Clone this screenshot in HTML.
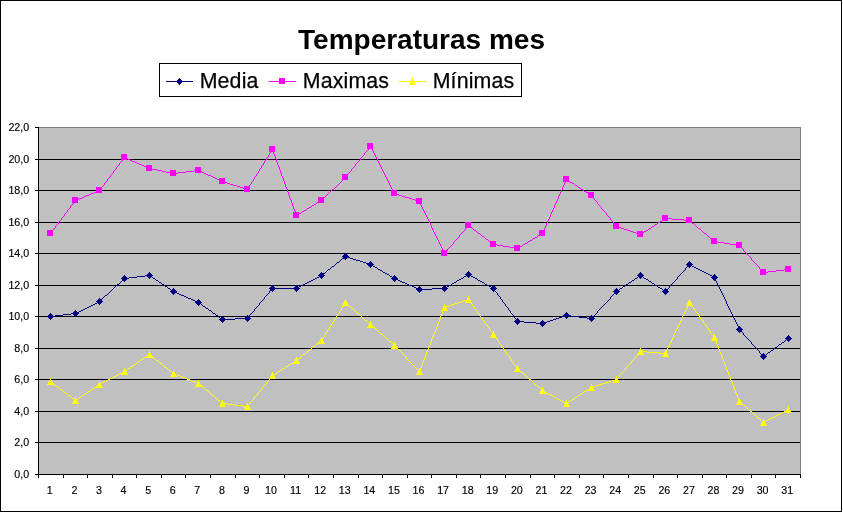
<!DOCTYPE html>
<html><head><meta charset="utf-8"><title>Temperaturas mes</title>
<style>html,body{margin:0;padding:0;background:#fff}svg{display:block}text{font-family:"Liberation Sans",Arial,sans-serif;fill:#000}.t{font-size:10.67px;stroke:#000;stroke-width:0.15px}.lg{font-size:21.33px;letter-spacing:0.15px;stroke:#000;stroke-width:0.25px}.ti{font-size:28px;font-weight:bold}</style></head><body>
<svg width="843" height="513" viewBox="0 0 843 513" shape-rendering="crispEdges">
<rect x="0" y="0" width="843" height="513" fill="#fff"/>
<rect x="0.5" y="0.5" width="841" height="511" fill="none" stroke="#000" stroke-width="1"/>
<rect x="38" y="127" width="763" height="348" fill="#808080"/>
<rect x="39" y="128" width="761" height="346" fill="#c0c0c0"/>
<rect x="39" y="442" width="761" height="1" fill="#000"/>
<rect x="39" y="411" width="761" height="1" fill="#000"/>
<rect x="39" y="379" width="761" height="1" fill="#000"/>
<rect x="39" y="348" width="761" height="1" fill="#000"/>
<rect x="39" y="316" width="761" height="1" fill="#000"/>
<rect x="39" y="285" width="761" height="1" fill="#000"/>
<rect x="39" y="253" width="761" height="1" fill="#000"/>
<rect x="39" y="222" width="761" height="1" fill="#000"/>
<rect x="39" y="190" width="761" height="1" fill="#000"/>
<rect x="39" y="159" width="761" height="1" fill="#000"/>
<rect x="38" y="127" width="1" height="348" fill="#000"/>
<rect x="38" y="474" width="763" height="1" fill="#000"/>
<rect x="35" y="474" width="3" height="1" fill="#000"/>
<text class="t" x="29.2" y="478" text-anchor="end">0,0</text>
<rect x="35" y="442" width="3" height="1" fill="#000"/>
<text class="t" x="29.2" y="446" text-anchor="end">2,0</text>
<rect x="35" y="411" width="3" height="1" fill="#000"/>
<text class="t" x="29.2" y="415" text-anchor="end">4,0</text>
<rect x="35" y="379" width="3" height="1" fill="#000"/>
<text class="t" x="29.2" y="383" text-anchor="end">6,0</text>
<rect x="35" y="348" width="3" height="1" fill="#000"/>
<text class="t" x="29.2" y="352" text-anchor="end">8,0</text>
<rect x="35" y="316" width="3" height="1" fill="#000"/>
<text class="t" x="29.2" y="320" text-anchor="end">10,0</text>
<rect x="35" y="285" width="3" height="1" fill="#000"/>
<text class="t" x="29.2" y="289" text-anchor="end">12,0</text>
<rect x="35" y="253" width="3" height="1" fill="#000"/>
<text class="t" x="29.2" y="257" text-anchor="end">14,0</text>
<rect x="35" y="222" width="3" height="1" fill="#000"/>
<text class="t" x="29.2" y="226" text-anchor="end">16,0</text>
<rect x="35" y="190" width="3" height="1" fill="#000"/>
<text class="t" x="29.2" y="194" text-anchor="end">18,0</text>
<rect x="35" y="159" width="3" height="1" fill="#000"/>
<text class="t" x="29.2" y="163" text-anchor="end">20,0</text>
<rect x="35" y="127" width="3" height="1" fill="#000"/>
<text class="t" x="29.2" y="131" text-anchor="end">22,0</text>
<rect x="38" y="474" width="1" height="4" fill="#000"/>
<rect x="63" y="474" width="1" height="4" fill="#000"/>
<rect x="87" y="474" width="1" height="4" fill="#000"/>
<rect x="112" y="474" width="1" height="4" fill="#000"/>
<rect x="136" y="474" width="1" height="4" fill="#000"/>
<rect x="161" y="474" width="1" height="4" fill="#000"/>
<rect x="185" y="474" width="1" height="4" fill="#000"/>
<rect x="210" y="474" width="1" height="4" fill="#000"/>
<rect x="235" y="474" width="1" height="4" fill="#000"/>
<rect x="259" y="474" width="1" height="4" fill="#000"/>
<rect x="284" y="474" width="1" height="4" fill="#000"/>
<rect x="308" y="474" width="1" height="4" fill="#000"/>
<rect x="333" y="474" width="1" height="4" fill="#000"/>
<rect x="358" y="474" width="1" height="4" fill="#000"/>
<rect x="382" y="474" width="1" height="4" fill="#000"/>
<rect x="407" y="474" width="1" height="4" fill="#000"/>
<rect x="431" y="474" width="1" height="4" fill="#000"/>
<rect x="456" y="474" width="1" height="4" fill="#000"/>
<rect x="480" y="474" width="1" height="4" fill="#000"/>
<rect x="505" y="474" width="1" height="4" fill="#000"/>
<rect x="530" y="474" width="1" height="4" fill="#000"/>
<rect x="554" y="474" width="1" height="4" fill="#000"/>
<rect x="579" y="474" width="1" height="4" fill="#000"/>
<rect x="603" y="474" width="1" height="4" fill="#000"/>
<rect x="628" y="474" width="1" height="4" fill="#000"/>
<rect x="653" y="474" width="1" height="4" fill="#000"/>
<rect x="677" y="474" width="1" height="4" fill="#000"/>
<rect x="702" y="474" width="1" height="4" fill="#000"/>
<rect x="726" y="474" width="1" height="4" fill="#000"/>
<rect x="751" y="474" width="1" height="4" fill="#000"/>
<rect x="775" y="474" width="1" height="4" fill="#000"/>
<rect x="800" y="474" width="1" height="4" fill="#000"/>
<text class="t" x="49.79" y="494" text-anchor="middle">1</text>
<text class="t" x="74.37" y="494" text-anchor="middle">2</text>
<text class="t" x="98.95" y="494" text-anchor="middle">3</text>
<text class="t" x="123.53" y="494" text-anchor="middle">4</text>
<text class="t" x="148.11" y="494" text-anchor="middle">5</text>
<text class="t" x="172.69" y="494" text-anchor="middle">6</text>
<text class="t" x="197.27" y="494" text-anchor="middle">7</text>
<text class="t" x="221.85" y="494" text-anchor="middle">8</text>
<text class="t" x="246.44" y="494" text-anchor="middle">9</text>
<text class="t" x="271.02" y="494" text-anchor="middle">10</text>
<text class="t" x="295.60" y="494" text-anchor="middle">11</text>
<text class="t" x="320.18" y="494" text-anchor="middle">12</text>
<text class="t" x="344.76" y="494" text-anchor="middle">13</text>
<text class="t" x="369.34" y="494" text-anchor="middle">14</text>
<text class="t" x="393.92" y="494" text-anchor="middle">15</text>
<text class="t" x="418.50" y="494" text-anchor="middle">16</text>
<text class="t" x="443.08" y="494" text-anchor="middle">17</text>
<text class="t" x="467.66" y="494" text-anchor="middle">18</text>
<text class="t" x="492.24" y="494" text-anchor="middle">19</text>
<text class="t" x="516.82" y="494" text-anchor="middle">20</text>
<text class="t" x="541.40" y="494" text-anchor="middle">21</text>
<text class="t" x="565.98" y="494" text-anchor="middle">22</text>
<text class="t" x="590.56" y="494" text-anchor="middle">23</text>
<text class="t" x="615.15" y="494" text-anchor="middle">24</text>
<text class="t" x="639.73" y="494" text-anchor="middle">25</text>
<text class="t" x="664.31" y="494" text-anchor="middle">26</text>
<text class="t" x="688.89" y="494" text-anchor="middle">27</text>
<text class="t" x="713.47" y="494" text-anchor="middle">28</text>
<text class="t" x="738.05" y="494" text-anchor="middle">29</text>
<text class="t" x="762.63" y="494" text-anchor="middle">30</text>
<text class="t" x="787.21" y="494" text-anchor="middle">31</text>
<path d="M50 316h5v1h-5zM55 315h8v1h-8zM63 314h8v1h-8zM71 313h5v1h-5zM75 313h2v1h-2zM77 312h2v1h-2zM79 311h2v1h-2zM81 310h2v1h-2zM83 309h2v1h-2zM85 308h2v1h-2zM87 307h2v1h-2zM89 306h2v1h-2zM91 305h2v1h-2zM93 304h2v1h-2zM95 303h2v1h-2zM97 302h2v1h-2zM99 301h1v1h-1zM99 301h1v1h-1zM100 300h1v1h-1zM101 299h1v1h-1zM102 298h1v1h-1zM103 297h1v1h-1zM104 296h1v1h-1zM105 295h2v1h-2zM107 294h1v1h-1zM108 293h1v1h-1zM109 292h1v1h-1zM110 291h1v1h-1zM111 290h1v1h-1zM112 289h1v1h-1zM113 288h1v1h-1zM114 287h1v1h-1zM115 286h1v1h-1zM116 285h1v1h-1zM117 284h2v1h-2zM119 283h1v1h-1zM120 282h1v1h-1zM121 281h1v1h-1zM122 280h1v1h-1zM123 279h1v1h-1zM124 278h1v1h-1zM124 278h5v1h-5zM129 277h8v1h-8zM137 276h8v1h-8zM145 275h5v1h-5zM149 275h1v1h-1zM150 276h2v1h-2zM152 277h1v1h-1zM153 278h2v1h-2zM155 279h1v1h-1zM156 280h2v1h-2zM158 281h1v1h-1zM159 282h2v1h-2zM161 283h1v1h-1zM162 284h2v1h-2zM164 285h1v1h-1zM165 286h2v1h-2zM167 287h1v1h-1zM168 288h2v1h-2zM170 289h1v1h-1zM171 290h2v1h-2zM173 291h1v1h-1zM173 291h2v1h-2zM175 292h2v1h-2zM177 293h2v1h-2zM179 294h2v1h-2zM181 295h3v1h-3zM184 296h2v1h-2zM186 297h2v1h-2zM188 298h3v1h-3zM191 299h2v1h-2zM193 300h2v1h-2zM195 301h2v1h-2zM197 302h2v1h-2zM198 302h1v1h-1zM199 303h2v1h-2zM201 304h1v1h-1zM202 305h1v1h-1zM203 306h2v1h-2zM205 307h1v1h-1zM206 308h2v1h-2zM208 309h1v1h-1zM209 310h2v1h-2zM211 311h1v1h-1zM212 312h1v1h-1zM213 313h2v1h-2zM215 314h1v1h-1zM216 315h2v1h-2zM218 316h1v1h-1zM219 317h1v1h-1zM220 318h2v1h-2zM222 319h1v1h-1zM222 319h13v1h-13zM235 318h13v1h-13zM247 318h1v1h-1zM248 317h1v1h-1zM249 315h1v2h-1zM250 314h1v1h-1zM251 313h1v1h-1zM252 312h1v1h-1zM253 311h1v1h-1zM254 309h1v2h-1zM255 308h1v1h-1zM256 307h1v1h-1zM257 306h1v1h-1zM258 305h1v1h-1zM259 303h1v2h-1zM260 302h1v1h-1zM261 301h1v1h-1zM262 300h1v1h-1zM263 299h1v1h-1zM264 297h1v2h-1zM265 296h1v1h-1zM266 295h1v1h-1zM267 294h1v1h-1zM268 293h1v1h-1zM269 291h1v2h-1zM270 290h1v1h-1zM271 289h1v1h-1zM272 288h1v1h-1zM272 288h25v1h-25zM296 288h1v1h-1zM297 287h2v1h-2zM299 286h2v1h-2zM301 285h2v1h-2zM303 284h2v1h-2zM305 283h2v1h-2zM307 282h2v1h-2zM309 281h2v1h-2zM311 280h2v1h-2zM313 279h2v1h-2zM315 278h2v1h-2zM317 277h2v1h-2zM319 276h2v1h-2zM321 275h1v1h-1zM321 275h1v1h-1zM322 274h1v1h-1zM323 273h2v1h-2zM325 272h1v1h-1zM326 271h1v1h-1zM327 270h1v1h-1zM328 269h2v1h-2zM330 268h1v1h-1zM331 267h1v1h-1zM332 266h2v1h-2zM334 265h1v1h-1zM335 264h1v1h-1zM336 263h1v1h-1zM337 262h2v1h-2zM339 261h1v1h-1zM340 260h1v1h-1zM341 259h1v1h-1zM342 258h2v1h-2zM344 257h1v1h-1zM345 256h1v1h-1zM345 256h2v1h-2zM347 257h3v1h-3zM350 258h3v1h-3zM353 259h3v1h-3zM356 260h4v1h-4zM360 261h3v1h-3zM363 262h3v1h-3zM366 263h3v1h-3zM369 264h2v1h-2zM370 264h1v1h-1zM371 265h2v1h-2zM373 266h2v1h-2zM375 267h2v1h-2zM377 268h1v1h-1zM378 269h2v1h-2zM380 270h2v1h-2zM382 271h1v1h-1zM383 272h2v1h-2zM385 273h2v1h-2zM387 274h2v1h-2zM389 275h1v1h-1zM390 276h2v1h-2zM392 277h2v1h-2zM394 278h1v1h-1zM394 278h2v1h-2zM396 279h2v1h-2zM398 280h2v1h-2zM400 281h2v1h-2zM402 282h3v1h-3zM405 283h2v1h-2zM407 284h2v1h-2zM409 285h3v1h-3zM412 286h2v1h-2zM414 287h2v1h-2zM416 288h2v1h-2zM418 289h2v1h-2zM419 289h13v1h-13zM432 288h13v1h-13zM444 288h1v1h-1zM445 287h2v1h-2zM447 286h2v1h-2zM449 285h2v1h-2zM451 284h1v1h-1zM452 283h2v1h-2zM454 282h2v1h-2zM456 281h1v1h-1zM457 280h2v1h-2zM459 279h2v1h-2zM461 278h2v1h-2zM463 277h1v1h-1zM464 276h2v1h-2zM466 275h2v1h-2zM468 274h1v1h-1zM468 274h1v1h-1zM469 275h2v1h-2zM471 276h2v1h-2zM473 277h2v1h-2zM475 278h2v1h-2zM477 279h1v1h-1zM478 280h2v1h-2zM480 281h2v1h-2zM482 282h2v1h-2zM484 283h1v1h-1zM485 284h2v1h-2zM487 285h2v1h-2zM489 286h2v1h-2zM491 287h2v1h-2zM493 288h1v1h-1zM493 288h1v1h-1zM494 289h1v2h-1zM495 291h1v1h-1zM496 292h1v1h-1zM497 293h1v2h-1zM498 295h1v1h-1zM499 296h1v1h-1zM500 297h1v2h-1zM501 299h1v1h-1zM502 300h1v2h-1zM503 302h1v1h-1zM504 303h1v1h-1zM505 304h1v2h-1zM506 306h1v1h-1zM507 307h1v1h-1zM508 308h1v2h-1zM509 310h1v1h-1zM510 311h1v2h-1zM511 313h1v1h-1zM512 314h1v1h-1zM513 315h1v2h-1zM514 317h1v1h-1zM515 318h1v1h-1zM516 319h1v2h-1zM517 321h1v1h-1zM517 321h7v1h-7zM524 322h12v1h-12zM536 323h7v1h-7zM542 323h2v1h-2zM544 322h3v1h-3zM547 321h3v1h-3zM550 320h3v1h-3zM553 319h3v1h-3zM556 318h3v1h-3zM559 317h3v1h-3zM562 316h3v1h-3zM565 315h2v1h-2zM566 315h5v1h-5zM571 316h8v1h-8zM579 317h8v1h-8zM587 318h5v1h-5zM591 318h1v1h-1zM592 317h1v1h-1zM593 316h1v1h-1zM594 315h1v1h-1zM595 314h1v1h-1zM596 313h1v1h-1zM597 311h1v2h-1zM598 310h1v1h-1zM599 309h1v1h-1zM600 308h1v1h-1zM601 307h1v1h-1zM602 306h1v1h-1zM603 305h1v1h-1zM604 304h1v1h-1zM605 303h1v1h-1zM606 302h1v1h-1zM607 301h1v1h-1zM608 300h1v1h-1zM609 299h1v1h-1zM610 297h1v2h-1zM611 296h1v1h-1zM612 295h1v1h-1zM613 294h1v1h-1zM614 293h1v1h-1zM615 292h1v1h-1zM616 291h1v1h-1zM616 291h1v1h-1zM617 290h2v1h-2zM619 289h1v1h-1zM620 288h2v1h-2zM622 287h1v1h-1zM623 286h2v1h-2zM625 285h1v1h-1zM626 284h2v1h-2zM628 283h1v1h-1zM629 282h2v1h-2zM631 281h1v1h-1zM632 280h2v1h-2zM634 279h1v1h-1zM635 278h2v1h-2zM637 277h1v1h-1zM638 276h2v1h-2zM640 275h1v1h-1zM640 275h1v1h-1zM641 276h2v1h-2zM643 277h1v1h-1zM644 278h2v1h-2zM646 279h2v1h-2zM648 280h1v1h-1zM649 281h2v1h-2zM651 282h1v1h-1zM652 283h2v1h-2zM654 284h1v1h-1zM655 285h2v1h-2zM657 286h1v1h-1zM658 287h2v1h-2zM660 288h2v1h-2zM662 289h1v1h-1zM663 290h2v1h-2zM665 291h1v1h-1zM665 291h1v1h-1zM666 290h1v1h-1zM667 289h1v1h-1zM668 288h1v1h-1zM669 286h1v2h-1zM670 285h1v1h-1zM671 284h1v1h-1zM672 283h1v1h-1zM673 282h1v1h-1zM674 281h1v1h-1zM675 280h1v1h-1zM676 279h1v1h-1zM677 277h1v2h-1zM678 276h1v1h-1zM679 275h1v1h-1zM680 274h1v1h-1zM681 273h1v1h-1zM682 272h1v1h-1zM683 271h1v1h-1zM684 270h1v1h-1zM685 268h1v2h-1zM686 267h1v1h-1zM687 266h1v1h-1zM688 265h1v1h-1zM689 264h1v1h-1zM689 264h1v1h-1zM690 265h2v1h-2zM692 266h2v1h-2zM694 267h2v1h-2zM696 268h2v1h-2zM698 269h2v1h-2zM700 270h2v1h-2zM702 271h2v1h-2zM704 272h2v1h-2zM706 273h2v1h-2zM708 274h2v1h-2zM710 275h2v1h-2zM712 276h2v1h-2zM714 277h1v1h-1zM714 277h1v2h-1zM715 279h1v2h-1zM716 281h1v2h-1zM717 283h1v2h-1zM718 285h1v2h-1zM719 287h1v2h-1zM720 289h1v2h-1zM721 291h1v2h-1zM722 293h1v2h-1zM723 295h1v2h-1zM724 297h1v2h-1zM725 299h1v2h-1zM726 301h1v3h-1zM727 304h1v2h-1zM728 306h1v2h-1zM729 308h1v2h-1zM730 310h1v2h-1zM731 312h1v2h-1zM732 314h1v2h-1zM733 316h1v2h-1zM734 318h1v2h-1zM735 320h1v2h-1zM736 322h1v2h-1zM737 324h1v2h-1zM738 326h1v2h-1zM739 328h1v2h-1zM739 329h1v1h-1zM740 330h1v1h-1zM741 331h1v1h-1zM742 332h1v1h-1zM743 333h1v2h-1zM744 335h1v1h-1zM745 336h1v1h-1zM746 337h1v1h-1zM747 338h1v1h-1zM748 339h1v1h-1zM749 340h1v1h-1zM750 341h1v1h-1zM751 342h1v2h-1zM752 344h1v1h-1zM753 345h1v1h-1zM754 346h1v1h-1zM755 347h1v1h-1zM756 348h1v1h-1zM757 349h1v1h-1zM758 350h1v1h-1zM759 351h1v2h-1zM760 353h1v1h-1zM761 354h1v1h-1zM762 355h1v1h-1zM763 356h1v1h-1zM763 356h1v1h-1zM764 355h2v1h-2zM766 354h1v1h-1zM767 353h1v1h-1zM768 352h2v1h-2zM770 351h1v1h-1zM771 350h2v1h-2zM773 349h1v1h-1zM774 348h1v1h-1zM775 347h2v1h-2zM777 346h1v1h-1zM778 345h1v1h-1zM779 344h2v1h-2zM781 343h1v1h-1zM782 342h2v1h-2zM784 341h1v1h-1zM785 340h1v1h-1zM786 339h2v1h-2zM788 338h1v1h-1z" fill="#000080"/>
<rect x="50" y="313" width="1" height="1" fill="#000080"/>
<rect x="49" y="314" width="3" height="1" fill="#000080"/>
<rect x="48" y="315" width="5" height="1" fill="#000080"/>
<rect x="47" y="316" width="7" height="1" fill="#000080"/>
<rect x="48" y="317" width="5" height="1" fill="#000080"/>
<rect x="49" y="318" width="3" height="1" fill="#000080"/>
<rect x="50" y="319" width="1" height="1" fill="#000080"/>
<rect x="75" y="310" width="1" height="1" fill="#000080"/>
<rect x="74" y="311" width="3" height="1" fill="#000080"/>
<rect x="73" y="312" width="5" height="1" fill="#000080"/>
<rect x="72" y="313" width="7" height="1" fill="#000080"/>
<rect x="73" y="314" width="5" height="1" fill="#000080"/>
<rect x="74" y="315" width="3" height="1" fill="#000080"/>
<rect x="75" y="316" width="1" height="1" fill="#000080"/>
<rect x="99" y="298" width="1" height="1" fill="#000080"/>
<rect x="98" y="299" width="3" height="1" fill="#000080"/>
<rect x="97" y="300" width="5" height="1" fill="#000080"/>
<rect x="96" y="301" width="7" height="1" fill="#000080"/>
<rect x="97" y="302" width="5" height="1" fill="#000080"/>
<rect x="98" y="303" width="3" height="1" fill="#000080"/>
<rect x="99" y="304" width="1" height="1" fill="#000080"/>
<rect x="124" y="275" width="1" height="1" fill="#000080"/>
<rect x="123" y="276" width="3" height="1" fill="#000080"/>
<rect x="122" y="277" width="5" height="1" fill="#000080"/>
<rect x="121" y="278" width="7" height="1" fill="#000080"/>
<rect x="122" y="279" width="5" height="1" fill="#000080"/>
<rect x="123" y="280" width="3" height="1" fill="#000080"/>
<rect x="124" y="281" width="1" height="1" fill="#000080"/>
<rect x="149" y="272" width="1" height="1" fill="#000080"/>
<rect x="148" y="273" width="3" height="1" fill="#000080"/>
<rect x="147" y="274" width="5" height="1" fill="#000080"/>
<rect x="146" y="275" width="7" height="1" fill="#000080"/>
<rect x="147" y="276" width="5" height="1" fill="#000080"/>
<rect x="148" y="277" width="3" height="1" fill="#000080"/>
<rect x="149" y="278" width="1" height="1" fill="#000080"/>
<rect x="173" y="288" width="1" height="1" fill="#000080"/>
<rect x="172" y="289" width="3" height="1" fill="#000080"/>
<rect x="171" y="290" width="5" height="1" fill="#000080"/>
<rect x="170" y="291" width="7" height="1" fill="#000080"/>
<rect x="171" y="292" width="5" height="1" fill="#000080"/>
<rect x="172" y="293" width="3" height="1" fill="#000080"/>
<rect x="173" y="294" width="1" height="1" fill="#000080"/>
<rect x="198" y="299" width="1" height="1" fill="#000080"/>
<rect x="197" y="300" width="3" height="1" fill="#000080"/>
<rect x="196" y="301" width="5" height="1" fill="#000080"/>
<rect x="195" y="302" width="7" height="1" fill="#000080"/>
<rect x="196" y="303" width="5" height="1" fill="#000080"/>
<rect x="197" y="304" width="3" height="1" fill="#000080"/>
<rect x="198" y="305" width="1" height="1" fill="#000080"/>
<rect x="222" y="316" width="1" height="1" fill="#000080"/>
<rect x="221" y="317" width="3" height="1" fill="#000080"/>
<rect x="220" y="318" width="5" height="1" fill="#000080"/>
<rect x="219" y="319" width="7" height="1" fill="#000080"/>
<rect x="220" y="320" width="5" height="1" fill="#000080"/>
<rect x="221" y="321" width="3" height="1" fill="#000080"/>
<rect x="222" y="322" width="1" height="1" fill="#000080"/>
<rect x="247" y="315" width="1" height="1" fill="#000080"/>
<rect x="246" y="316" width="3" height="1" fill="#000080"/>
<rect x="245" y="317" width="5" height="1" fill="#000080"/>
<rect x="244" y="318" width="7" height="1" fill="#000080"/>
<rect x="245" y="319" width="5" height="1" fill="#000080"/>
<rect x="246" y="320" width="3" height="1" fill="#000080"/>
<rect x="247" y="321" width="1" height="1" fill="#000080"/>
<rect x="272" y="285" width="1" height="1" fill="#000080"/>
<rect x="271" y="286" width="3" height="1" fill="#000080"/>
<rect x="270" y="287" width="5" height="1" fill="#000080"/>
<rect x="269" y="288" width="7" height="1" fill="#000080"/>
<rect x="270" y="289" width="5" height="1" fill="#000080"/>
<rect x="271" y="290" width="3" height="1" fill="#000080"/>
<rect x="272" y="291" width="1" height="1" fill="#000080"/>
<rect x="296" y="285" width="1" height="1" fill="#000080"/>
<rect x="295" y="286" width="3" height="1" fill="#000080"/>
<rect x="294" y="287" width="5" height="1" fill="#000080"/>
<rect x="293" y="288" width="7" height="1" fill="#000080"/>
<rect x="294" y="289" width="5" height="1" fill="#000080"/>
<rect x="295" y="290" width="3" height="1" fill="#000080"/>
<rect x="296" y="291" width="1" height="1" fill="#000080"/>
<rect x="321" y="272" width="1" height="1" fill="#000080"/>
<rect x="320" y="273" width="3" height="1" fill="#000080"/>
<rect x="319" y="274" width="5" height="1" fill="#000080"/>
<rect x="318" y="275" width="7" height="1" fill="#000080"/>
<rect x="319" y="276" width="5" height="1" fill="#000080"/>
<rect x="320" y="277" width="3" height="1" fill="#000080"/>
<rect x="321" y="278" width="1" height="1" fill="#000080"/>
<rect x="345" y="253" width="1" height="1" fill="#000080"/>
<rect x="344" y="254" width="3" height="1" fill="#000080"/>
<rect x="343" y="255" width="5" height="1" fill="#000080"/>
<rect x="342" y="256" width="7" height="1" fill="#000080"/>
<rect x="343" y="257" width="5" height="1" fill="#000080"/>
<rect x="344" y="258" width="3" height="1" fill="#000080"/>
<rect x="345" y="259" width="1" height="1" fill="#000080"/>
<rect x="370" y="261" width="1" height="1" fill="#000080"/>
<rect x="369" y="262" width="3" height="1" fill="#000080"/>
<rect x="368" y="263" width="5" height="1" fill="#000080"/>
<rect x="367" y="264" width="7" height="1" fill="#000080"/>
<rect x="368" y="265" width="5" height="1" fill="#000080"/>
<rect x="369" y="266" width="3" height="1" fill="#000080"/>
<rect x="370" y="267" width="1" height="1" fill="#000080"/>
<rect x="394" y="275" width="1" height="1" fill="#000080"/>
<rect x="393" y="276" width="3" height="1" fill="#000080"/>
<rect x="392" y="277" width="5" height="1" fill="#000080"/>
<rect x="391" y="278" width="7" height="1" fill="#000080"/>
<rect x="392" y="279" width="5" height="1" fill="#000080"/>
<rect x="393" y="280" width="3" height="1" fill="#000080"/>
<rect x="394" y="281" width="1" height="1" fill="#000080"/>
<rect x="419" y="286" width="1" height="1" fill="#000080"/>
<rect x="418" y="287" width="3" height="1" fill="#000080"/>
<rect x="417" y="288" width="5" height="1" fill="#000080"/>
<rect x="416" y="289" width="7" height="1" fill="#000080"/>
<rect x="417" y="290" width="5" height="1" fill="#000080"/>
<rect x="418" y="291" width="3" height="1" fill="#000080"/>
<rect x="419" y="292" width="1" height="1" fill="#000080"/>
<rect x="444" y="285" width="1" height="1" fill="#000080"/>
<rect x="443" y="286" width="3" height="1" fill="#000080"/>
<rect x="442" y="287" width="5" height="1" fill="#000080"/>
<rect x="441" y="288" width="7" height="1" fill="#000080"/>
<rect x="442" y="289" width="5" height="1" fill="#000080"/>
<rect x="443" y="290" width="3" height="1" fill="#000080"/>
<rect x="444" y="291" width="1" height="1" fill="#000080"/>
<rect x="468" y="271" width="1" height="1" fill="#000080"/>
<rect x="467" y="272" width="3" height="1" fill="#000080"/>
<rect x="466" y="273" width="5" height="1" fill="#000080"/>
<rect x="465" y="274" width="7" height="1" fill="#000080"/>
<rect x="466" y="275" width="5" height="1" fill="#000080"/>
<rect x="467" y="276" width="3" height="1" fill="#000080"/>
<rect x="468" y="277" width="1" height="1" fill="#000080"/>
<rect x="493" y="285" width="1" height="1" fill="#000080"/>
<rect x="492" y="286" width="3" height="1" fill="#000080"/>
<rect x="491" y="287" width="5" height="1" fill="#000080"/>
<rect x="490" y="288" width="7" height="1" fill="#000080"/>
<rect x="491" y="289" width="5" height="1" fill="#000080"/>
<rect x="492" y="290" width="3" height="1" fill="#000080"/>
<rect x="493" y="291" width="1" height="1" fill="#000080"/>
<rect x="517" y="318" width="1" height="1" fill="#000080"/>
<rect x="516" y="319" width="3" height="1" fill="#000080"/>
<rect x="515" y="320" width="5" height="1" fill="#000080"/>
<rect x="514" y="321" width="7" height="1" fill="#000080"/>
<rect x="515" y="322" width="5" height="1" fill="#000080"/>
<rect x="516" y="323" width="3" height="1" fill="#000080"/>
<rect x="517" y="324" width="1" height="1" fill="#000080"/>
<rect x="542" y="320" width="1" height="1" fill="#000080"/>
<rect x="541" y="321" width="3" height="1" fill="#000080"/>
<rect x="540" y="322" width="5" height="1" fill="#000080"/>
<rect x="539" y="323" width="7" height="1" fill="#000080"/>
<rect x="540" y="324" width="5" height="1" fill="#000080"/>
<rect x="541" y="325" width="3" height="1" fill="#000080"/>
<rect x="542" y="326" width="1" height="1" fill="#000080"/>
<rect x="566" y="312" width="1" height="1" fill="#000080"/>
<rect x="565" y="313" width="3" height="1" fill="#000080"/>
<rect x="564" y="314" width="5" height="1" fill="#000080"/>
<rect x="563" y="315" width="7" height="1" fill="#000080"/>
<rect x="564" y="316" width="5" height="1" fill="#000080"/>
<rect x="565" y="317" width="3" height="1" fill="#000080"/>
<rect x="566" y="318" width="1" height="1" fill="#000080"/>
<rect x="591" y="315" width="1" height="1" fill="#000080"/>
<rect x="590" y="316" width="3" height="1" fill="#000080"/>
<rect x="589" y="317" width="5" height="1" fill="#000080"/>
<rect x="588" y="318" width="7" height="1" fill="#000080"/>
<rect x="589" y="319" width="5" height="1" fill="#000080"/>
<rect x="590" y="320" width="3" height="1" fill="#000080"/>
<rect x="591" y="321" width="1" height="1" fill="#000080"/>
<rect x="616" y="288" width="1" height="1" fill="#000080"/>
<rect x="615" y="289" width="3" height="1" fill="#000080"/>
<rect x="614" y="290" width="5" height="1" fill="#000080"/>
<rect x="613" y="291" width="7" height="1" fill="#000080"/>
<rect x="614" y="292" width="5" height="1" fill="#000080"/>
<rect x="615" y="293" width="3" height="1" fill="#000080"/>
<rect x="616" y="294" width="1" height="1" fill="#000080"/>
<rect x="640" y="272" width="1" height="1" fill="#000080"/>
<rect x="639" y="273" width="3" height="1" fill="#000080"/>
<rect x="638" y="274" width="5" height="1" fill="#000080"/>
<rect x="637" y="275" width="7" height="1" fill="#000080"/>
<rect x="638" y="276" width="5" height="1" fill="#000080"/>
<rect x="639" y="277" width="3" height="1" fill="#000080"/>
<rect x="640" y="278" width="1" height="1" fill="#000080"/>
<rect x="665" y="288" width="1" height="1" fill="#000080"/>
<rect x="664" y="289" width="3" height="1" fill="#000080"/>
<rect x="663" y="290" width="5" height="1" fill="#000080"/>
<rect x="662" y="291" width="7" height="1" fill="#000080"/>
<rect x="663" y="292" width="5" height="1" fill="#000080"/>
<rect x="664" y="293" width="3" height="1" fill="#000080"/>
<rect x="665" y="294" width="1" height="1" fill="#000080"/>
<rect x="689" y="261" width="1" height="1" fill="#000080"/>
<rect x="688" y="262" width="3" height="1" fill="#000080"/>
<rect x="687" y="263" width="5" height="1" fill="#000080"/>
<rect x="686" y="264" width="7" height="1" fill="#000080"/>
<rect x="687" y="265" width="5" height="1" fill="#000080"/>
<rect x="688" y="266" width="3" height="1" fill="#000080"/>
<rect x="689" y="267" width="1" height="1" fill="#000080"/>
<rect x="714" y="274" width="1" height="1" fill="#000080"/>
<rect x="713" y="275" width="3" height="1" fill="#000080"/>
<rect x="712" y="276" width="5" height="1" fill="#000080"/>
<rect x="711" y="277" width="7" height="1" fill="#000080"/>
<rect x="712" y="278" width="5" height="1" fill="#000080"/>
<rect x="713" y="279" width="3" height="1" fill="#000080"/>
<rect x="714" y="280" width="1" height="1" fill="#000080"/>
<rect x="739" y="326" width="1" height="1" fill="#000080"/>
<rect x="738" y="327" width="3" height="1" fill="#000080"/>
<rect x="737" y="328" width="5" height="1" fill="#000080"/>
<rect x="736" y="329" width="7" height="1" fill="#000080"/>
<rect x="737" y="330" width="5" height="1" fill="#000080"/>
<rect x="738" y="331" width="3" height="1" fill="#000080"/>
<rect x="739" y="332" width="1" height="1" fill="#000080"/>
<rect x="763" y="353" width="1" height="1" fill="#000080"/>
<rect x="762" y="354" width="3" height="1" fill="#000080"/>
<rect x="761" y="355" width="5" height="1" fill="#000080"/>
<rect x="760" y="356" width="7" height="1" fill="#000080"/>
<rect x="761" y="357" width="5" height="1" fill="#000080"/>
<rect x="762" y="358" width="3" height="1" fill="#000080"/>
<rect x="763" y="359" width="1" height="1" fill="#000080"/>
<rect x="788" y="335" width="1" height="1" fill="#000080"/>
<rect x="787" y="336" width="3" height="1" fill="#000080"/>
<rect x="786" y="337" width="5" height="1" fill="#000080"/>
<rect x="785" y="338" width="7" height="1" fill="#000080"/>
<rect x="786" y="339" width="5" height="1" fill="#000080"/>
<rect x="787" y="340" width="3" height="1" fill="#000080"/>
<rect x="788" y="341" width="1" height="1" fill="#000080"/>
<path d="M50 233h1v1h-1zM51 232h1v1h-1zM52 230h1v2h-1zM53 229h1v1h-1zM54 228h1v1h-1zM55 226h1v2h-1zM56 225h1v1h-1zM57 224h1v1h-1zM58 222h1v2h-1zM59 221h1v1h-1zM60 220h1v1h-1zM61 218h1v2h-1zM62 217h1v1h-1zM63 216h1v1h-1zM64 214h1v2h-1zM65 213h1v1h-1zM66 212h1v1h-1zM67 210h1v2h-1zM68 209h1v1h-1zM69 208h1v1h-1zM70 206h1v2h-1zM71 205h1v1h-1zM72 204h1v1h-1zM73 202h1v2h-1zM74 201h1v1h-1zM75 200h1v1h-1zM75 200h2v1h-2zM77 199h2v1h-2zM79 198h3v1h-3zM82 197h2v1h-2zM84 196h2v1h-2zM86 195h3v1h-3zM89 194h2v1h-2zM91 193h3v1h-3zM94 192h2v1h-2zM96 191h2v1h-2zM98 190h2v1h-2zM99 190h1v1h-1zM100 189h1v1h-1zM101 187h1v2h-1zM102 186h1v1h-1zM103 185h1v1h-1zM104 183h1v2h-1zM105 182h1v1h-1zM106 181h1v1h-1zM107 179h1v2h-1zM108 178h1v1h-1zM109 177h1v1h-1zM110 175h1v2h-1zM111 174h1v1h-1zM112 173h1v1h-1zM113 171h1v2h-1zM114 170h1v1h-1zM115 169h1v1h-1zM116 167h1v2h-1zM117 166h1v1h-1zM118 165h1v1h-1zM119 163h1v2h-1zM120 162h1v1h-1zM121 161h1v1h-1zM122 159h1v2h-1zM123 158h1v1h-1zM124 157h1v1h-1zM124 157h2v1h-2zM126 158h2v1h-2zM128 159h2v1h-2zM130 160h2v1h-2zM132 161h3v1h-3zM135 162h2v1h-2zM137 163h2v1h-2zM139 164h3v1h-3zM142 165h2v1h-2zM144 166h2v1h-2zM146 167h2v1h-2zM148 168h2v1h-2zM149 168h3v1h-3zM152 169h5v1h-5zM157 170h5v1h-5zM162 171h4v1h-4zM166 172h5v1h-5zM171 173h3v1h-3zM173 173h5v1h-5zM178 172h8v1h-8zM186 171h8v1h-8zM194 170h5v1h-5zM198 170h2v1h-2zM200 171h2v1h-2zM202 172h2v1h-2zM204 173h2v1h-2zM206 174h2v1h-2zM208 175h3v1h-3zM211 176h2v1h-2zM213 177h2v1h-2zM215 178h2v1h-2zM217 179h2v1h-2zM219 180h2v1h-2zM221 181h2v1h-2zM222 181h2v1h-2zM224 182h3v1h-3zM227 183h3v1h-3zM230 184h3v1h-3zM233 185h4v1h-4zM237 186h3v1h-3zM240 187h3v1h-3zM243 188h3v1h-3zM246 189h2v1h-2zM247 189h1v1h-1zM248 187h1v2h-1zM249 185h1v2h-1zM250 184h1v1h-1zM251 182h1v2h-1zM252 181h1v1h-1zM253 179h1v2h-1zM254 177h1v2h-1zM255 176h1v1h-1zM256 174h1v2h-1zM257 173h1v1h-1zM258 171h1v2h-1zM259 169h1v2h-1zM260 168h1v1h-1zM261 166h1v2h-1zM262 165h1v1h-1zM263 163h1v2h-1zM264 161h1v2h-1zM265 160h1v1h-1zM266 158h1v2h-1zM267 157h1v1h-1zM268 155h1v2h-1zM269 153h1v2h-1zM270 152h1v1h-1zM271 150h1v2h-1zM272 149h1v1h-1zM272 149h1v2h-1zM273 151h1v3h-1zM274 154h1v2h-1zM275 156h1v3h-1zM276 159h1v3h-1zM277 162h1v3h-1zM278 165h1v2h-1zM279 167h1v3h-1zM280 170h1v3h-1zM281 173h1v3h-1zM282 176h1v2h-1zM283 178h1v3h-1zM284 181h1v3h-1zM285 184h1v3h-1zM286 187h1v2h-1zM287 189h1v3h-1zM288 192h1v3h-1zM289 195h1v3h-1zM290 198h1v2h-1zM291 200h1v3h-1zM292 203h1v3h-1zM293 206h1v3h-1zM294 209h1v2h-1zM295 211h1v3h-1zM296 214h1v2h-1zM296 215h1v1h-1zM297 214h2v1h-2zM299 213h2v1h-2zM301 212h1v1h-1zM302 211h2v1h-2zM304 210h2v1h-2zM306 209h1v1h-1zM307 208h2v1h-2zM309 207h2v1h-2zM311 206h1v1h-1zM312 205h2v1h-2zM314 204h2v1h-2zM316 203h1v1h-1zM317 202h2v1h-2zM319 201h2v1h-2zM321 200h1v1h-1zM321 200h1v1h-1zM322 199h1v1h-1zM323 198h1v1h-1zM324 197h1v1h-1zM325 196h1v1h-1zM326 195h1v1h-1zM327 194h1v1h-1zM328 193h1v1h-1zM329 192h1v1h-1zM330 191h1v1h-1zM331 190h1v1h-1zM332 189h2v1h-2zM334 188h1v1h-1zM335 187h1v1h-1zM336 186h1v1h-1zM337 185h1v1h-1zM338 184h1v1h-1zM339 183h1v1h-1zM340 182h1v1h-1zM341 181h1v1h-1zM342 180h1v1h-1zM343 179h1v1h-1zM344 178h1v1h-1zM345 177h1v1h-1zM345 177h1v1h-1zM346 176h1v1h-1zM347 174h1v2h-1zM348 173h1v1h-1zM349 172h1v1h-1zM350 171h1v1h-1zM351 169h1v2h-1zM352 168h1v1h-1zM353 167h1v1h-1zM354 166h1v1h-1zM355 164h1v2h-1zM356 163h1v1h-1zM357 162h1v1h-1zM358 161h1v1h-1zM359 160h1v1h-1zM360 158h1v2h-1zM361 157h1v1h-1zM362 156h1v1h-1zM363 155h1v1h-1zM364 153h1v2h-1zM365 152h1v1h-1zM366 151h1v1h-1zM367 150h1v1h-1zM368 148h1v2h-1zM369 147h1v1h-1zM370 146h1v1h-1zM370 146h1v1h-1zM371 147h1v2h-1zM372 149h1v2h-1zM373 151h1v2h-1zM374 153h1v2h-1zM375 155h1v2h-1zM376 157h1v2h-1zM377 159h1v2h-1zM378 161h1v2h-1zM379 163h1v2h-1zM380 165h1v2h-1zM381 167h1v2h-1zM382 169h1v2h-1zM383 171h1v2h-1zM384 173h1v2h-1zM385 175h1v2h-1zM386 177h1v2h-1zM387 179h1v2h-1zM388 181h1v2h-1zM389 183h1v2h-1zM390 185h1v2h-1zM391 187h1v2h-1zM392 189h1v2h-1zM393 191h1v2h-1zM394 193h1v1h-1zM394 193h2v1h-2zM396 194h3v1h-3zM399 195h3v1h-3zM402 196h3v1h-3zM405 197h4v1h-4zM409 198h3v1h-3zM412 199h3v1h-3zM415 200h3v1h-3zM418 201h2v1h-2zM419 201h1v2h-1zM420 203h1v2h-1zM421 205h1v2h-1zM422 207h1v2h-1zM423 209h1v2h-1zM424 211h1v2h-1zM425 213h1v2h-1zM426 215h1v2h-1zM427 217h1v2h-1zM428 219h1v2h-1zM429 221h1v2h-1zM430 223h1v2h-1zM431 225h1v3h-1zM432 228h1v2h-1zM433 230h1v2h-1zM434 232h1v2h-1zM435 234h1v2h-1zM436 236h1v2h-1zM437 238h1v2h-1zM438 240h1v2h-1zM439 242h1v2h-1zM440 244h1v2h-1zM441 246h1v2h-1zM442 248h1v2h-1zM443 250h1v2h-1zM444 252h1v2h-1zM444 253h1v1h-1zM445 252h1v1h-1zM446 251h1v1h-1zM447 249h1v2h-1zM448 248h1v1h-1zM449 247h1v1h-1zM450 246h1v1h-1zM451 245h1v1h-1zM452 244h1v1h-1zM453 242h1v2h-1zM454 241h1v1h-1zM455 240h1v1h-1zM456 239h1v1h-1zM457 238h1v1h-1zM458 237h1v1h-1zM459 235h1v2h-1zM460 234h1v1h-1zM461 233h1v1h-1zM462 232h1v1h-1zM463 231h1v1h-1zM464 230h1v1h-1zM465 228h1v2h-1zM466 227h1v1h-1zM467 226h1v1h-1zM468 225h1v1h-1zM468 225h1v1h-1zM469 226h1v1h-1zM470 227h2v1h-2zM472 228h1v1h-1zM473 229h1v1h-1zM474 230h2v1h-2zM476 231h1v1h-1zM477 232h1v1h-1zM478 233h2v1h-2zM480 234h1v1h-1zM481 235h1v1h-1zM482 236h2v1h-2zM484 237h1v1h-1zM485 238h1v1h-1zM486 239h2v1h-2zM488 240h1v1h-1zM489 241h1v1h-1zM490 242h2v1h-2zM492 243h1v1h-1zM493 244h1v1h-1zM493 244h4v1h-4zM497 245h6v1h-6zM503 246h6v1h-6zM509 247h6v1h-6zM515 248h3v1h-3zM517 248h1v1h-1zM518 247h2v1h-2zM520 246h2v1h-2zM522 245h1v1h-1zM523 244h2v1h-2zM525 243h2v1h-2zM527 242h1v1h-1zM528 241h2v1h-2zM530 240h2v1h-2zM532 239h1v1h-1zM533 238h2v1h-2zM535 237h2v1h-2zM537 236h1v1h-1zM538 235h2v1h-2zM540 234h2v1h-2zM542 233h1v1h-1zM542 232h1v2h-1zM543 230h1v2h-1zM544 228h1v2h-1zM545 226h1v2h-1zM546 223h1v3h-1zM547 221h1v2h-1zM548 219h1v2h-1zM549 217h1v2h-1zM550 214h1v3h-1zM551 212h1v2h-1zM552 210h1v2h-1zM553 208h1v2h-1zM554 205h1v3h-1zM555 203h1v2h-1zM556 201h1v2h-1zM557 199h1v2h-1zM558 196h1v3h-1zM559 194h1v2h-1zM560 192h1v2h-1zM561 190h1v2h-1zM562 187h1v3h-1zM563 185h1v2h-1zM564 183h1v2h-1zM565 181h1v2h-1zM566 179h1v2h-1zM566 179h1v1h-1zM567 180h2v1h-2zM569 181h1v1h-1zM570 182h2v1h-2zM572 183h2v1h-2zM574 184h1v1h-1zM575 185h2v1h-2zM577 186h1v1h-1zM578 187h2v1h-2zM580 188h1v1h-1zM581 189h2v1h-2zM583 190h1v1h-1zM584 191h2v1h-2zM586 192h2v1h-2zM588 193h1v1h-1zM589 194h2v1h-2zM591 195h1v1h-1zM591 195h1v1h-1zM592 196h1v1h-1zM593 197h1v2h-1zM594 199h1v1h-1zM595 200h1v1h-1zM596 201h1v1h-1zM597 202h1v2h-1zM598 204h1v1h-1zM599 205h1v1h-1zM600 206h1v1h-1zM601 207h1v2h-1zM602 209h1v1h-1zM603 210h1v1h-1zM604 211h1v1h-1zM605 212h1v1h-1zM606 213h1v2h-1zM607 215h1v1h-1zM608 216h1v1h-1zM609 217h1v1h-1zM610 218h1v2h-1zM611 220h1v1h-1zM612 221h1v1h-1zM613 222h1v1h-1zM614 223h1v2h-1zM615 225h1v1h-1zM616 226h1v1h-1zM616 226h2v1h-2zM618 227h3v1h-3zM621 228h3v1h-3zM624 229h3v1h-3zM627 230h3v1h-3zM630 231h3v1h-3zM633 232h3v1h-3zM636 233h3v1h-3zM639 234h2v1h-2zM640 234h1v1h-1zM641 233h2v1h-2zM643 232h1v1h-1zM644 231h2v1h-2zM646 230h2v1h-2zM648 229h1v1h-1zM649 228h2v1h-2zM651 227h1v1h-1zM652 226h2v1h-2zM654 225h1v1h-1zM655 224h2v1h-2zM657 223h1v1h-1zM658 222h2v1h-2zM660 221h2v1h-2zM662 220h1v1h-1zM663 219h2v1h-2zM665 218h1v1h-1zM665 218h7v1h-7zM672 219h12v1h-12zM684 220h6v1h-6zM689 220h1v1h-1zM690 221h1v1h-1zM691 222h1v1h-1zM692 223h2v1h-2zM694 224h1v1h-1zM695 225h1v1h-1zM696 226h1v1h-1zM697 227h1v1h-1zM698 228h2v1h-2zM700 229h1v1h-1zM701 230h1v1h-1zM702 231h1v1h-1zM703 232h1v1h-1zM704 233h2v1h-2zM706 234h1v1h-1zM707 235h1v1h-1zM708 236h1v1h-1zM709 237h1v1h-1zM710 238h2v1h-2zM712 239h1v1h-1zM713 240h1v1h-1zM714 241h1v1h-1zM714 241h4v1h-4zM718 242h6v1h-6zM724 243h6v1h-6zM730 244h6v1h-6zM736 245h4v1h-4zM739 245h1v1h-1zM740 246h1v1h-1zM741 247h1v1h-1zM742 248h1v1h-1zM743 249h1v2h-1zM744 251h1v1h-1zM745 252h1v1h-1zM746 253h1v1h-1zM747 254h1v1h-1zM748 255h1v1h-1zM749 256h1v1h-1zM750 257h1v1h-1zM751 258h1v2h-1zM752 260h1v1h-1zM753 261h1v1h-1zM754 262h1v1h-1zM755 263h1v1h-1zM756 264h1v1h-1zM757 265h1v1h-1zM758 266h1v1h-1zM759 267h1v2h-1zM760 269h1v1h-1zM761 270h1v1h-1zM762 271h1v1h-1zM763 272h1v1h-1zM763 272h5v1h-5zM768 271h8v1h-8zM776 270h8v1h-8zM784 269h5v1h-5z" fill="#ff00ff"/>
<rect x="47" y="230" width="6" height="6" fill="#ff00ff"/>
<rect x="72" y="197" width="6" height="6" fill="#ff00ff"/>
<rect x="96" y="187" width="6" height="6" fill="#ff00ff"/>
<rect x="121" y="154" width="6" height="6" fill="#ff00ff"/>
<rect x="146" y="165" width="6" height="6" fill="#ff00ff"/>
<rect x="170" y="170" width="6" height="6" fill="#ff00ff"/>
<rect x="195" y="167" width="6" height="6" fill="#ff00ff"/>
<rect x="219" y="178" width="6" height="6" fill="#ff00ff"/>
<rect x="244" y="186" width="6" height="6" fill="#ff00ff"/>
<rect x="269" y="146" width="6" height="6" fill="#ff00ff"/>
<rect x="293" y="212" width="6" height="6" fill="#ff00ff"/>
<rect x="318" y="197" width="6" height="6" fill="#ff00ff"/>
<rect x="342" y="174" width="6" height="6" fill="#ff00ff"/>
<rect x="367" y="143" width="6" height="6" fill="#ff00ff"/>
<rect x="391" y="190" width="6" height="6" fill="#ff00ff"/>
<rect x="416" y="198" width="6" height="6" fill="#ff00ff"/>
<rect x="441" y="250" width="6" height="6" fill="#ff00ff"/>
<rect x="465" y="222" width="6" height="6" fill="#ff00ff"/>
<rect x="490" y="241" width="6" height="6" fill="#ff00ff"/>
<rect x="514" y="245" width="6" height="6" fill="#ff00ff"/>
<rect x="539" y="230" width="6" height="6" fill="#ff00ff"/>
<rect x="563" y="176" width="6" height="6" fill="#ff00ff"/>
<rect x="588" y="192" width="6" height="6" fill="#ff00ff"/>
<rect x="613" y="223" width="6" height="6" fill="#ff00ff"/>
<rect x="637" y="231" width="6" height="6" fill="#ff00ff"/>
<rect x="662" y="215" width="6" height="6" fill="#ff00ff"/>
<rect x="686" y="217" width="6" height="6" fill="#ff00ff"/>
<rect x="711" y="238" width="6" height="6" fill="#ff00ff"/>
<rect x="736" y="242" width="6" height="6" fill="#ff00ff"/>
<rect x="760" y="269" width="6" height="6" fill="#ff00ff"/>
<rect x="785" y="266" width="6" height="6" fill="#ff00ff"/>
<path d="M50 381h1v1h-1zM51 382h1v1h-1zM52 383h2v1h-2zM54 384h1v1h-1zM55 385h1v1h-1zM56 386h2v1h-2zM58 387h1v1h-1zM59 388h1v1h-1zM60 389h2v1h-2zM62 390h1v1h-1zM63 391h1v1h-1zM64 392h2v1h-2zM66 393h1v1h-1zM67 394h1v1h-1zM68 395h2v1h-2zM70 396h1v1h-1zM71 397h1v1h-1zM72 398h2v1h-2zM74 399h1v1h-1zM75 400h1v1h-1zM75 400h1v1h-1zM76 399h2v1h-2zM78 398h1v1h-1zM79 397h2v1h-2zM81 396h1v1h-1zM82 395h2v1h-2zM84 394h1v1h-1zM85 393h2v1h-2zM87 392h1v1h-1zM88 391h2v1h-2zM90 390h1v1h-1zM91 389h2v1h-2zM93 388h1v1h-1zM94 387h2v1h-2zM96 386h1v1h-1zM97 385h2v1h-2zM99 384h1v1h-1zM99 384h1v1h-1zM100 383h2v1h-2zM102 382h2v1h-2zM104 381h2v1h-2zM106 380h2v1h-2zM108 379h2v1h-2zM110 378h2v1h-2zM112 377h2v1h-2zM114 376h2v1h-2zM116 375h2v1h-2zM118 374h2v1h-2zM120 373h2v1h-2zM122 372h2v1h-2zM124 371h1v1h-1zM124 371h1v1h-1zM125 370h2v1h-2zM127 369h1v1h-1zM128 368h2v1h-2zM130 367h1v1h-1zM131 366h2v1h-2zM133 365h1v1h-1zM134 364h2v1h-2zM136 363h1v1h-1zM137 362h1v1h-1zM138 361h2v1h-2zM140 360h1v1h-1zM141 359h2v1h-2zM143 358h1v1h-1zM144 357h2v1h-2zM146 356h1v1h-1zM147 355h2v1h-2zM149 354h1v1h-1zM149 354h1v1h-1zM150 355h1v1h-1zM151 356h2v1h-2zM153 357h1v1h-1zM154 358h1v1h-1zM155 359h1v1h-1zM156 360h2v1h-2zM158 361h1v1h-1zM159 362h1v1h-1zM160 363h2v1h-2zM162 364h1v1h-1zM163 365h1v1h-1zM164 366h1v1h-1zM165 367h2v1h-2zM167 368h1v1h-1zM168 369h1v1h-1zM169 370h1v1h-1zM170 371h2v1h-2zM172 372h1v1h-1zM173 373h1v1h-1zM173 373h2v1h-2zM175 374h2v1h-2zM177 375h3v1h-3zM180 376h2v1h-2zM182 377h3v1h-3zM185 378h2v1h-2zM187 379h3v1h-3zM190 380h2v1h-2zM192 381h3v1h-3zM195 382h2v1h-2zM197 383h2v1h-2zM198 383h1v1h-1zM199 384h1v1h-1zM200 385h2v1h-2zM202 386h1v1h-1zM203 387h1v1h-1zM204 388h1v1h-1zM205 389h1v1h-1zM206 390h2v1h-2zM208 391h1v1h-1zM209 392h1v1h-1zM210 393h1v1h-1zM211 394h1v1h-1zM212 395h2v1h-2zM214 396h1v1h-1zM215 397h1v1h-1zM216 398h1v1h-1zM217 399h1v1h-1zM218 400h2v1h-2zM220 401h1v1h-1zM221 402h1v1h-1zM222 403h1v1h-1zM222 403h5v1h-5zM227 404h8v1h-8zM235 405h8v1h-8zM243 406h5v1h-5zM247 406h1v1h-1zM248 405h1v1h-1zM249 403h1v2h-1zM250 402h1v1h-1zM251 401h1v1h-1zM252 400h1v1h-1zM253 398h1v2h-1zM254 397h1v1h-1zM255 396h1v1h-1zM256 395h1v1h-1zM257 393h1v2h-1zM258 392h1v1h-1zM259 391h1v1h-1zM260 390h1v1h-1zM261 389h1v1h-1zM262 387h1v2h-1zM263 386h1v1h-1zM264 385h1v1h-1zM265 384h1v1h-1zM266 382h1v2h-1zM267 381h1v1h-1zM268 380h1v1h-1zM269 379h1v1h-1zM270 377h1v2h-1zM271 376h1v1h-1zM272 375h1v1h-1zM272 375h1v1h-1zM273 374h2v1h-2zM275 373h2v1h-2zM277 372h1v1h-1zM278 371h2v1h-2zM280 370h1v1h-1zM281 369h2v1h-2zM283 368h2v1h-2zM285 367h1v1h-1zM286 366h2v1h-2zM288 365h1v1h-1zM289 364h2v1h-2zM291 363h2v1h-2zM293 362h1v1h-1zM294 361h2v1h-2zM296 360h1v1h-1zM296 360h1v1h-1zM297 359h1v1h-1zM298 358h2v1h-2zM300 357h1v1h-1zM301 356h1v1h-1zM302 355h1v1h-1zM303 354h2v1h-2zM305 353h1v1h-1zM306 352h1v1h-1zM307 351h1v1h-1zM308 350h2v1h-2zM310 349h1v1h-1zM311 348h1v1h-1zM312 347h1v1h-1zM313 346h2v1h-2zM315 345h1v1h-1zM316 344h1v1h-1zM317 343h1v1h-1zM318 342h2v1h-2zM320 341h1v1h-1zM321 340h1v1h-1zM321 340h1v1h-1zM322 338h1v2h-1zM323 337h1v1h-1zM324 335h1v2h-1zM325 333h1v2h-1zM326 332h1v1h-1zM327 330h1v2h-1zM328 329h1v1h-1zM329 327h1v2h-1zM330 325h1v2h-1zM331 324h1v1h-1zM332 322h1v2h-1zM333 321h1v1h-1zM334 319h1v2h-1zM335 318h1v1h-1zM336 316h1v2h-1zM337 314h1v2h-1zM338 313h1v1h-1zM339 311h1v2h-1zM340 310h1v1h-1zM341 308h1v2h-1zM342 306h1v2h-1zM343 305h1v1h-1zM344 303h1v2h-1zM345 302h1v1h-1zM345 302h1v1h-1zM346 303h1v1h-1zM347 304h1v1h-1zM348 305h1v1h-1zM349 306h2v1h-2zM351 307h1v1h-1zM352 308h1v1h-1zM353 309h1v1h-1zM354 310h1v1h-1zM355 311h1v1h-1zM356 312h1v1h-1zM357 313h2v1h-2zM359 314h1v1h-1zM360 315h1v1h-1zM361 316h1v1h-1zM362 317h1v1h-1zM363 318h1v1h-1zM364 319h1v1h-1zM365 320h2v1h-2zM367 321h1v1h-1zM368 322h1v1h-1zM369 323h1v1h-1zM370 324h1v1h-1zM370 324h1v1h-1zM371 325h1v1h-1zM372 326h1v1h-1zM373 327h2v1h-2zM375 328h1v1h-1zM376 329h1v1h-1zM377 330h1v1h-1zM378 331h1v1h-1zM379 332h1v1h-1zM380 333h1v1h-1zM381 334h2v1h-2zM383 335h1v1h-1zM384 336h1v1h-1zM385 337h1v1h-1zM386 338h1v1h-1zM387 339h1v1h-1zM388 340h1v1h-1zM389 341h2v1h-2zM391 342h1v1h-1zM392 343h1v1h-1zM393 344h1v1h-1zM394 345h1v1h-1zM394 345h1v1h-1zM395 346h1v1h-1zM396 347h1v1h-1zM397 348h1v1h-1zM398 349h1v1h-1zM399 350h1v1h-1zM400 351h1v1h-1zM401 352h1v1h-1zM402 353h1v1h-1zM403 354h1v1h-1zM404 355h1v1h-1zM405 356h1v1h-1zM406 357h1v2h-1zM407 359h1v1h-1zM408 360h1v1h-1zM409 361h1v1h-1zM410 362h1v1h-1zM411 363h1v1h-1zM412 364h1v1h-1zM413 365h1v1h-1zM414 366h1v1h-1zM415 367h1v1h-1zM416 368h1v1h-1zM417 369h1v1h-1zM418 370h1v1h-1zM419 371h1v1h-1zM419 370h1v2h-1zM420 368h1v2h-1zM421 365h1v3h-1zM422 363h1v2h-1zM423 360h1v3h-1zM424 357h1v3h-1zM425 355h1v2h-1zM426 352h1v3h-1zM427 350h1v2h-1zM428 347h1v3h-1zM429 345h1v2h-1zM430 342h1v3h-1zM431 339h1v3h-1zM432 337h1v2h-1zM433 334h1v3h-1zM434 332h1v2h-1zM435 329h1v3h-1zM436 327h1v2h-1zM437 324h1v3h-1zM438 322h1v2h-1zM439 319h1v3h-1zM440 316h1v3h-1zM441 314h1v2h-1zM442 311h1v3h-1zM443 309h1v2h-1zM444 307h1v2h-1zM444 307h2v1h-2zM446 306h3v1h-3zM449 305h3v1h-3zM452 304h3v1h-3zM455 303h3v1h-3zM458 302h3v1h-3zM461 301h3v1h-3zM464 300h3v1h-3zM467 299h2v1h-2zM468 299h1v1h-1zM469 300h1v2h-1zM470 302h1v1h-1zM471 303h1v1h-1zM472 304h1v2h-1zM473 306h1v1h-1zM474 307h1v2h-1zM475 309h1v1h-1zM476 310h1v1h-1zM477 311h1v2h-1zM478 313h1v1h-1zM479 314h1v2h-1zM480 316h1v1h-1zM481 317h1v1h-1zM482 318h1v2h-1zM483 320h1v1h-1zM484 321h1v2h-1zM485 323h1v1h-1zM486 324h1v1h-1zM487 325h1v2h-1zM488 327h1v1h-1zM489 328h1v2h-1zM490 330h1v1h-1zM491 331h1v1h-1zM492 332h1v2h-1zM493 334h1v1h-1zM493 334h1v1h-1zM494 335h1v2h-1zM495 337h1v1h-1zM496 338h1v1h-1zM497 339h1v2h-1zM498 341h1v1h-1zM499 342h1v2h-1zM500 344h1v1h-1zM501 345h1v2h-1zM502 347h1v1h-1zM503 348h1v1h-1zM504 349h1v2h-1zM505 351h1v1h-1zM506 352h1v2h-1zM507 354h1v1h-1zM508 355h1v1h-1zM509 356h1v2h-1zM510 358h1v1h-1zM511 359h1v2h-1zM512 361h1v1h-1zM513 362h1v2h-1zM514 364h1v1h-1zM515 365h1v1h-1zM516 366h1v2h-1zM517 368h1v1h-1zM517 368h1v1h-1zM518 369h1v1h-1zM519 370h1v1h-1zM520 371h1v1h-1zM521 372h2v1h-2zM523 373h1v1h-1zM524 374h1v1h-1zM525 375h1v1h-1zM526 376h1v1h-1zM527 377h1v1h-1zM528 378h1v1h-1zM529 379h2v1h-2zM531 380h1v1h-1zM532 381h1v1h-1zM533 382h1v1h-1zM534 383h1v1h-1zM535 384h1v1h-1zM536 385h1v1h-1zM537 386h2v1h-2zM539 387h1v1h-1zM540 388h1v1h-1zM541 389h1v1h-1zM542 390h1v1h-1zM542 390h1v1h-1zM543 391h2v1h-2zM545 392h2v1h-2zM547 393h2v1h-2zM549 394h2v1h-2zM551 395h2v1h-2zM553 396h2v1h-2zM555 397h1v1h-1zM556 398h2v1h-2zM558 399h2v1h-2zM560 400h2v1h-2zM562 401h2v1h-2zM564 402h2v1h-2zM566 403h1v1h-1zM566 403h1v1h-1zM567 402h2v1h-2zM569 401h1v1h-1zM570 400h2v1h-2zM572 399h2v1h-2zM574 398h1v1h-1zM575 397h2v1h-2zM577 396h1v1h-1zM578 395h2v1h-2zM580 394h1v1h-1zM581 393h2v1h-2zM583 392h1v1h-1zM584 391h2v1h-2zM586 390h2v1h-2zM588 389h1v1h-1zM589 388h2v1h-2zM591 387h1v1h-1zM591 387h2v1h-2zM593 386h3v1h-3zM596 385h3v1h-3zM599 384h3v1h-3zM602 383h4v1h-4zM606 382h3v1h-3zM609 381h3v1h-3zM612 380h3v1h-3zM615 379h2v1h-2zM616 379h1v1h-1zM617 378h1v1h-1zM618 377h1v1h-1zM619 375h1v2h-1zM620 374h1v1h-1zM621 373h1v1h-1zM622 372h1v1h-1zM623 371h1v1h-1zM624 370h1v1h-1zM625 368h1v2h-1zM626 367h1v1h-1zM627 366h1v1h-1zM628 365h1v1h-1zM629 364h1v1h-1zM630 363h1v1h-1zM631 361h1v2h-1zM632 360h1v1h-1zM633 359h1v1h-1zM634 358h1v1h-1zM635 357h1v1h-1zM636 356h1v1h-1zM637 354h1v2h-1zM638 353h1v1h-1zM639 352h1v1h-1zM640 351h1v1h-1zM640 351h7v1h-7zM647 352h12v1h-12zM659 353h7v1h-7zM665 352h1v2h-1zM666 350h1v2h-1zM667 348h1v2h-1zM668 346h1v2h-1zM669 344h1v2h-1zM670 342h1v2h-1zM671 340h1v2h-1zM672 338h1v2h-1zM673 335h1v3h-1zM674 333h1v2h-1zM675 331h1v2h-1zM676 329h1v2h-1zM677 327h1v2h-1zM678 325h1v2h-1zM679 323h1v2h-1zM680 321h1v2h-1zM681 318h1v3h-1zM682 316h1v2h-1zM683 314h1v2h-1zM684 312h1v2h-1zM685 310h1v2h-1zM686 308h1v2h-1zM687 306h1v2h-1zM688 304h1v2h-1zM689 302h1v2h-1zM689 302h1v1h-1zM690 303h1v2h-1zM691 305h1v1h-1zM692 306h1v1h-1zM693 307h1v2h-1zM694 309h1v1h-1zM695 310h1v2h-1zM696 312h1v1h-1zM697 313h1v1h-1zM698 314h1v2h-1zM699 316h1v1h-1zM700 317h1v2h-1zM701 319h1v1h-1zM702 320h1v1h-1zM703 321h1v2h-1zM704 323h1v1h-1zM705 324h1v2h-1zM706 326h1v1h-1zM707 327h1v1h-1zM708 328h1v2h-1zM709 330h1v1h-1zM710 331h1v2h-1zM711 333h1v1h-1zM712 334h1v1h-1zM713 335h1v2h-1zM714 337h1v1h-1zM714 337h1v2h-1zM715 339h1v2h-1zM716 341h1v3h-1zM717 344h1v2h-1zM718 346h1v3h-1zM719 349h1v3h-1zM720 352h1v2h-1zM721 354h1v3h-1zM722 357h1v2h-1zM723 359h1v3h-1zM724 362h1v2h-1zM725 364h1v3h-1zM726 367h1v3h-1zM727 370h1v2h-1zM728 372h1v3h-1zM729 375h1v2h-1zM730 377h1v3h-1zM731 380h1v2h-1zM732 382h1v3h-1zM733 385h1v2h-1zM734 387h1v3h-1zM735 390h1v3h-1zM736 393h1v2h-1zM737 395h1v3h-1zM738 398h1v2h-1zM739 400h1v2h-1zM739 401h1v1h-1zM740 402h1v1h-1zM741 403h1v1h-1zM742 404h2v1h-2zM744 405h1v1h-1zM745 406h1v1h-1zM746 407h1v1h-1zM747 408h1v1h-1zM748 409h1v1h-1zM749 410h1v1h-1zM750 411h2v1h-2zM752 412h1v1h-1zM753 413h1v1h-1zM754 414h1v1h-1zM755 415h1v1h-1zM756 416h1v1h-1zM757 417h1v1h-1zM758 418h2v1h-2zM760 419h1v1h-1zM761 420h1v1h-1zM762 421h1v1h-1zM763 422h1v1h-1zM763 422h1v1h-1zM764 421h2v1h-2zM766 420h2v1h-2zM768 419h2v1h-2zM770 418h2v1h-2zM772 417h2v1h-2zM774 416h2v1h-2zM776 415h2v1h-2zM778 414h2v1h-2zM780 413h2v1h-2zM782 412h2v1h-2zM784 411h2v1h-2zM786 410h2v1h-2zM788 409h1v1h-1z" fill="#ffff00"/>
<rect x="50" y="378" width="1" height="1" fill="#ffff00"/>
<rect x="50" y="379" width="1" height="1" fill="#ffff00"/>
<rect x="49" y="380" width="3" height="1" fill="#ffff00"/>
<rect x="49" y="381" width="3" height="1" fill="#ffff00"/>
<rect x="48" y="382" width="5" height="1" fill="#ffff00"/>
<rect x="48" y="383" width="5" height="1" fill="#ffff00"/>
<rect x="47" y="384" width="7" height="1" fill="#ffff00"/>
<rect x="75" y="397" width="1" height="1" fill="#ffff00"/>
<rect x="75" y="398" width="1" height="1" fill="#ffff00"/>
<rect x="74" y="399" width="3" height="1" fill="#ffff00"/>
<rect x="74" y="400" width="3" height="1" fill="#ffff00"/>
<rect x="73" y="401" width="5" height="1" fill="#ffff00"/>
<rect x="73" y="402" width="5" height="1" fill="#ffff00"/>
<rect x="72" y="403" width="7" height="1" fill="#ffff00"/>
<rect x="99" y="381" width="1" height="1" fill="#ffff00"/>
<rect x="99" y="382" width="1" height="1" fill="#ffff00"/>
<rect x="98" y="383" width="3" height="1" fill="#ffff00"/>
<rect x="98" y="384" width="3" height="1" fill="#ffff00"/>
<rect x="97" y="385" width="5" height="1" fill="#ffff00"/>
<rect x="97" y="386" width="5" height="1" fill="#ffff00"/>
<rect x="96" y="387" width="7" height="1" fill="#ffff00"/>
<rect x="124" y="368" width="1" height="1" fill="#ffff00"/>
<rect x="124" y="369" width="1" height="1" fill="#ffff00"/>
<rect x="123" y="370" width="3" height="1" fill="#ffff00"/>
<rect x="123" y="371" width="3" height="1" fill="#ffff00"/>
<rect x="122" y="372" width="5" height="1" fill="#ffff00"/>
<rect x="122" y="373" width="5" height="1" fill="#ffff00"/>
<rect x="121" y="374" width="7" height="1" fill="#ffff00"/>
<rect x="149" y="351" width="1" height="1" fill="#ffff00"/>
<rect x="149" y="352" width="1" height="1" fill="#ffff00"/>
<rect x="148" y="353" width="3" height="1" fill="#ffff00"/>
<rect x="148" y="354" width="3" height="1" fill="#ffff00"/>
<rect x="147" y="355" width="5" height="1" fill="#ffff00"/>
<rect x="147" y="356" width="5" height="1" fill="#ffff00"/>
<rect x="146" y="357" width="7" height="1" fill="#ffff00"/>
<rect x="173" y="370" width="1" height="1" fill="#ffff00"/>
<rect x="173" y="371" width="1" height="1" fill="#ffff00"/>
<rect x="172" y="372" width="3" height="1" fill="#ffff00"/>
<rect x="172" y="373" width="3" height="1" fill="#ffff00"/>
<rect x="171" y="374" width="5" height="1" fill="#ffff00"/>
<rect x="171" y="375" width="5" height="1" fill="#ffff00"/>
<rect x="170" y="376" width="7" height="1" fill="#ffff00"/>
<rect x="198" y="380" width="1" height="1" fill="#ffff00"/>
<rect x="198" y="381" width="1" height="1" fill="#ffff00"/>
<rect x="197" y="382" width="3" height="1" fill="#ffff00"/>
<rect x="197" y="383" width="3" height="1" fill="#ffff00"/>
<rect x="196" y="384" width="5" height="1" fill="#ffff00"/>
<rect x="196" y="385" width="5" height="1" fill="#ffff00"/>
<rect x="195" y="386" width="7" height="1" fill="#ffff00"/>
<rect x="222" y="400" width="1" height="1" fill="#ffff00"/>
<rect x="222" y="401" width="1" height="1" fill="#ffff00"/>
<rect x="221" y="402" width="3" height="1" fill="#ffff00"/>
<rect x="221" y="403" width="3" height="1" fill="#ffff00"/>
<rect x="220" y="404" width="5" height="1" fill="#ffff00"/>
<rect x="220" y="405" width="5" height="1" fill="#ffff00"/>
<rect x="219" y="406" width="7" height="1" fill="#ffff00"/>
<rect x="247" y="403" width="1" height="1" fill="#ffff00"/>
<rect x="247" y="404" width="1" height="1" fill="#ffff00"/>
<rect x="246" y="405" width="3" height="1" fill="#ffff00"/>
<rect x="246" y="406" width="3" height="1" fill="#ffff00"/>
<rect x="245" y="407" width="5" height="1" fill="#ffff00"/>
<rect x="245" y="408" width="5" height="1" fill="#ffff00"/>
<rect x="244" y="409" width="7" height="1" fill="#ffff00"/>
<rect x="272" y="372" width="1" height="1" fill="#ffff00"/>
<rect x="272" y="373" width="1" height="1" fill="#ffff00"/>
<rect x="271" y="374" width="3" height="1" fill="#ffff00"/>
<rect x="271" y="375" width="3" height="1" fill="#ffff00"/>
<rect x="270" y="376" width="5" height="1" fill="#ffff00"/>
<rect x="270" y="377" width="5" height="1" fill="#ffff00"/>
<rect x="269" y="378" width="7" height="1" fill="#ffff00"/>
<rect x="296" y="357" width="1" height="1" fill="#ffff00"/>
<rect x="296" y="358" width="1" height="1" fill="#ffff00"/>
<rect x="295" y="359" width="3" height="1" fill="#ffff00"/>
<rect x="295" y="360" width="3" height="1" fill="#ffff00"/>
<rect x="294" y="361" width="5" height="1" fill="#ffff00"/>
<rect x="294" y="362" width="5" height="1" fill="#ffff00"/>
<rect x="293" y="363" width="7" height="1" fill="#ffff00"/>
<rect x="321" y="337" width="1" height="1" fill="#ffff00"/>
<rect x="321" y="338" width="1" height="1" fill="#ffff00"/>
<rect x="320" y="339" width="3" height="1" fill="#ffff00"/>
<rect x="320" y="340" width="3" height="1" fill="#ffff00"/>
<rect x="319" y="341" width="5" height="1" fill="#ffff00"/>
<rect x="319" y="342" width="5" height="1" fill="#ffff00"/>
<rect x="318" y="343" width="7" height="1" fill="#ffff00"/>
<rect x="345" y="299" width="1" height="1" fill="#ffff00"/>
<rect x="345" y="300" width="1" height="1" fill="#ffff00"/>
<rect x="344" y="301" width="3" height="1" fill="#ffff00"/>
<rect x="344" y="302" width="3" height="1" fill="#ffff00"/>
<rect x="343" y="303" width="5" height="1" fill="#ffff00"/>
<rect x="343" y="304" width="5" height="1" fill="#ffff00"/>
<rect x="342" y="305" width="7" height="1" fill="#ffff00"/>
<rect x="370" y="321" width="1" height="1" fill="#ffff00"/>
<rect x="370" y="322" width="1" height="1" fill="#ffff00"/>
<rect x="369" y="323" width="3" height="1" fill="#ffff00"/>
<rect x="369" y="324" width="3" height="1" fill="#ffff00"/>
<rect x="368" y="325" width="5" height="1" fill="#ffff00"/>
<rect x="368" y="326" width="5" height="1" fill="#ffff00"/>
<rect x="367" y="327" width="7" height="1" fill="#ffff00"/>
<rect x="394" y="342" width="1" height="1" fill="#ffff00"/>
<rect x="394" y="343" width="1" height="1" fill="#ffff00"/>
<rect x="393" y="344" width="3" height="1" fill="#ffff00"/>
<rect x="393" y="345" width="3" height="1" fill="#ffff00"/>
<rect x="392" y="346" width="5" height="1" fill="#ffff00"/>
<rect x="392" y="347" width="5" height="1" fill="#ffff00"/>
<rect x="391" y="348" width="7" height="1" fill="#ffff00"/>
<rect x="419" y="368" width="1" height="1" fill="#ffff00"/>
<rect x="419" y="369" width="1" height="1" fill="#ffff00"/>
<rect x="418" y="370" width="3" height="1" fill="#ffff00"/>
<rect x="418" y="371" width="3" height="1" fill="#ffff00"/>
<rect x="417" y="372" width="5" height="1" fill="#ffff00"/>
<rect x="417" y="373" width="5" height="1" fill="#ffff00"/>
<rect x="416" y="374" width="7" height="1" fill="#ffff00"/>
<rect x="444" y="304" width="1" height="1" fill="#ffff00"/>
<rect x="444" y="305" width="1" height="1" fill="#ffff00"/>
<rect x="443" y="306" width="3" height="1" fill="#ffff00"/>
<rect x="443" y="307" width="3" height="1" fill="#ffff00"/>
<rect x="442" y="308" width="5" height="1" fill="#ffff00"/>
<rect x="442" y="309" width="5" height="1" fill="#ffff00"/>
<rect x="441" y="310" width="7" height="1" fill="#ffff00"/>
<rect x="468" y="296" width="1" height="1" fill="#ffff00"/>
<rect x="468" y="297" width="1" height="1" fill="#ffff00"/>
<rect x="467" y="298" width="3" height="1" fill="#ffff00"/>
<rect x="467" y="299" width="3" height="1" fill="#ffff00"/>
<rect x="466" y="300" width="5" height="1" fill="#ffff00"/>
<rect x="466" y="301" width="5" height="1" fill="#ffff00"/>
<rect x="465" y="302" width="7" height="1" fill="#ffff00"/>
<rect x="493" y="331" width="1" height="1" fill="#ffff00"/>
<rect x="493" y="332" width="1" height="1" fill="#ffff00"/>
<rect x="492" y="333" width="3" height="1" fill="#ffff00"/>
<rect x="492" y="334" width="3" height="1" fill="#ffff00"/>
<rect x="491" y="335" width="5" height="1" fill="#ffff00"/>
<rect x="491" y="336" width="5" height="1" fill="#ffff00"/>
<rect x="490" y="337" width="7" height="1" fill="#ffff00"/>
<rect x="517" y="365" width="1" height="1" fill="#ffff00"/>
<rect x="517" y="366" width="1" height="1" fill="#ffff00"/>
<rect x="516" y="367" width="3" height="1" fill="#ffff00"/>
<rect x="516" y="368" width="3" height="1" fill="#ffff00"/>
<rect x="515" y="369" width="5" height="1" fill="#ffff00"/>
<rect x="515" y="370" width="5" height="1" fill="#ffff00"/>
<rect x="514" y="371" width="7" height="1" fill="#ffff00"/>
<rect x="542" y="387" width="1" height="1" fill="#ffff00"/>
<rect x="542" y="388" width="1" height="1" fill="#ffff00"/>
<rect x="541" y="389" width="3" height="1" fill="#ffff00"/>
<rect x="541" y="390" width="3" height="1" fill="#ffff00"/>
<rect x="540" y="391" width="5" height="1" fill="#ffff00"/>
<rect x="540" y="392" width="5" height="1" fill="#ffff00"/>
<rect x="539" y="393" width="7" height="1" fill="#ffff00"/>
<rect x="566" y="400" width="1" height="1" fill="#ffff00"/>
<rect x="566" y="401" width="1" height="1" fill="#ffff00"/>
<rect x="565" y="402" width="3" height="1" fill="#ffff00"/>
<rect x="565" y="403" width="3" height="1" fill="#ffff00"/>
<rect x="564" y="404" width="5" height="1" fill="#ffff00"/>
<rect x="564" y="405" width="5" height="1" fill="#ffff00"/>
<rect x="563" y="406" width="7" height="1" fill="#ffff00"/>
<rect x="591" y="384" width="1" height="1" fill="#ffff00"/>
<rect x="591" y="385" width="1" height="1" fill="#ffff00"/>
<rect x="590" y="386" width="3" height="1" fill="#ffff00"/>
<rect x="590" y="387" width="3" height="1" fill="#ffff00"/>
<rect x="589" y="388" width="5" height="1" fill="#ffff00"/>
<rect x="589" y="389" width="5" height="1" fill="#ffff00"/>
<rect x="588" y="390" width="7" height="1" fill="#ffff00"/>
<rect x="616" y="376" width="1" height="1" fill="#ffff00"/>
<rect x="616" y="377" width="1" height="1" fill="#ffff00"/>
<rect x="615" y="378" width="3" height="1" fill="#ffff00"/>
<rect x="615" y="379" width="3" height="1" fill="#ffff00"/>
<rect x="614" y="380" width="5" height="1" fill="#ffff00"/>
<rect x="614" y="381" width="5" height="1" fill="#ffff00"/>
<rect x="613" y="382" width="7" height="1" fill="#ffff00"/>
<rect x="640" y="348" width="1" height="1" fill="#ffff00"/>
<rect x="640" y="349" width="1" height="1" fill="#ffff00"/>
<rect x="639" y="350" width="3" height="1" fill="#ffff00"/>
<rect x="639" y="351" width="3" height="1" fill="#ffff00"/>
<rect x="638" y="352" width="5" height="1" fill="#ffff00"/>
<rect x="638" y="353" width="5" height="1" fill="#ffff00"/>
<rect x="637" y="354" width="7" height="1" fill="#ffff00"/>
<rect x="665" y="350" width="1" height="1" fill="#ffff00"/>
<rect x="665" y="351" width="1" height="1" fill="#ffff00"/>
<rect x="664" y="352" width="3" height="1" fill="#ffff00"/>
<rect x="664" y="353" width="3" height="1" fill="#ffff00"/>
<rect x="663" y="354" width="5" height="1" fill="#ffff00"/>
<rect x="663" y="355" width="5" height="1" fill="#ffff00"/>
<rect x="662" y="356" width="7" height="1" fill="#ffff00"/>
<rect x="689" y="299" width="1" height="1" fill="#ffff00"/>
<rect x="689" y="300" width="1" height="1" fill="#ffff00"/>
<rect x="688" y="301" width="3" height="1" fill="#ffff00"/>
<rect x="688" y="302" width="3" height="1" fill="#ffff00"/>
<rect x="687" y="303" width="5" height="1" fill="#ffff00"/>
<rect x="687" y="304" width="5" height="1" fill="#ffff00"/>
<rect x="686" y="305" width="7" height="1" fill="#ffff00"/>
<rect x="714" y="334" width="1" height="1" fill="#ffff00"/>
<rect x="714" y="335" width="1" height="1" fill="#ffff00"/>
<rect x="713" y="336" width="3" height="1" fill="#ffff00"/>
<rect x="713" y="337" width="3" height="1" fill="#ffff00"/>
<rect x="712" y="338" width="5" height="1" fill="#ffff00"/>
<rect x="712" y="339" width="5" height="1" fill="#ffff00"/>
<rect x="711" y="340" width="7" height="1" fill="#ffff00"/>
<rect x="739" y="398" width="1" height="1" fill="#ffff00"/>
<rect x="739" y="399" width="1" height="1" fill="#ffff00"/>
<rect x="738" y="400" width="3" height="1" fill="#ffff00"/>
<rect x="738" y="401" width="3" height="1" fill="#ffff00"/>
<rect x="737" y="402" width="5" height="1" fill="#ffff00"/>
<rect x="737" y="403" width="5" height="1" fill="#ffff00"/>
<rect x="736" y="404" width="7" height="1" fill="#ffff00"/>
<rect x="763" y="419" width="1" height="1" fill="#ffff00"/>
<rect x="763" y="420" width="1" height="1" fill="#ffff00"/>
<rect x="762" y="421" width="3" height="1" fill="#ffff00"/>
<rect x="762" y="422" width="3" height="1" fill="#ffff00"/>
<rect x="761" y="423" width="5" height="1" fill="#ffff00"/>
<rect x="761" y="424" width="5" height="1" fill="#ffff00"/>
<rect x="760" y="425" width="7" height="1" fill="#ffff00"/>
<rect x="788" y="406" width="1" height="1" fill="#ffff00"/>
<rect x="788" y="407" width="1" height="1" fill="#ffff00"/>
<rect x="787" y="408" width="3" height="1" fill="#ffff00"/>
<rect x="787" y="409" width="3" height="1" fill="#ffff00"/>
<rect x="786" y="410" width="5" height="1" fill="#ffff00"/>
<rect x="786" y="411" width="5" height="1" fill="#ffff00"/>
<rect x="785" y="412" width="7" height="1" fill="#ffff00"/>
<text class="ti" x="421.5" y="49" text-anchor="middle">Temperaturas mes</text>
<rect x="159.5" y="63.5" width="362" height="33" fill="#fff" stroke="#000" stroke-width="1"/>
<rect x="166" y="81" width="27" height="1" fill="#000080"/>
<rect x="179" y="78" width="1" height="1" fill="#000080"/>
<rect x="178" y="79" width="3" height="1" fill="#000080"/>
<rect x="177" y="80" width="5" height="1" fill="#000080"/>
<rect x="176" y="81" width="7" height="1" fill="#000080"/>
<rect x="177" y="82" width="5" height="1" fill="#000080"/>
<rect x="178" y="83" width="3" height="1" fill="#000080"/>
<rect x="179" y="84" width="1" height="1" fill="#000080"/>
<text class="lg" x="199.7" y="87.5">Media</text>
<rect x="269" y="81" width="27" height="1" fill="#ff00ff"/>
<rect x="279" y="78" width="6" height="6" fill="#ff00ff"/>
<text class="lg" x="302.8" y="87.5">Maximas</text>
<rect x="399" y="81" width="27" height="1" fill="#ffff00"/>
<rect x="412" y="78" width="1" height="1" fill="#ffff00"/>
<rect x="412" y="79" width="1" height="1" fill="#ffff00"/>
<rect x="411" y="80" width="3" height="1" fill="#ffff00"/>
<rect x="411" y="81" width="3" height="1" fill="#ffff00"/>
<rect x="410" y="82" width="5" height="1" fill="#ffff00"/>
<rect x="410" y="83" width="5" height="1" fill="#ffff00"/>
<rect x="409" y="84" width="7" height="1" fill="#ffff00"/>
<text class="lg" x="432.7" y="87.5">Mínimas</text>
</svg></body></html>
